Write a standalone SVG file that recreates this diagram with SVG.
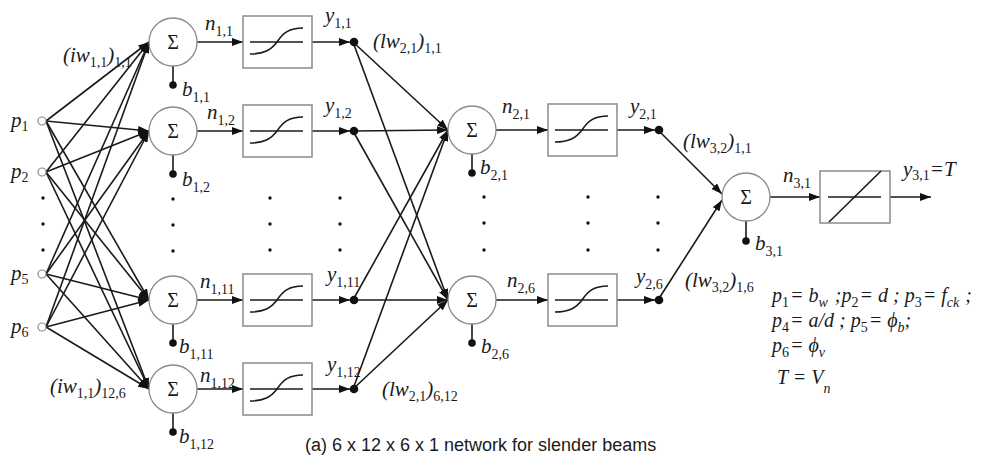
<svg xmlns="http://www.w3.org/2000/svg" width="989" height="458" viewBox="0 0 989 458">
<defs>
<marker id="ah" viewBox="0 0 11 8" refX="11" refY="4" markerWidth="11" markerHeight="8" markerUnits="userSpaceOnUse" orient="auto"><path d="M0,0 L11,4 L0,8 z" fill="#111"/></marker>
<style>
.ln{stroke:#1a1a1a;stroke-width:1.6;fill:none}
.a{marker-end:url(#ah)}
.nd{stroke:#8a8a8a;stroke-width:1.3;fill:#fff}
.box{stroke:#8a8a8a;stroke-width:1.5;fill:#fff}
.fn{stroke:#1a1a1a;stroke-width:1.6;fill:none}
.dot{fill:#111}
.sd{fill:#111}
.in{stroke:#8a8a8a;stroke-width:1.2;fill:#fff}
text{fill:#1a1a1a}
.it{font-family:"Liberation Serif","Times New Roman",serif;font-style:italic;font-size:21px}
.lg{font-size:20px}
.sub{font-size:14px;font-style:normal}
.subi{font-size:14px;font-style:italic}
.sig{font-family:"Liberation Serif","Times New Roman",serif;font-size:20px;text-anchor:middle}
.cap{font-family:"Liberation Sans",Arial,sans-serif;font-size:18px}
</style>
</defs>

<g id="connectors">
<g class="ln a">
<line x1="46" y1="121" x2="149" y2="42"/><line x1="46" y1="121" x2="149" y2="131"/><line x1="46" y1="121" x2="149" y2="300"/><line x1="46" y1="121" x2="149" y2="389"/>
<line x1="46" y1="172" x2="149" y2="42"/><line x1="46" y1="172" x2="149" y2="131"/><line x1="46" y1="172" x2="149" y2="300"/><line x1="46" y1="172" x2="149" y2="389"/>
<line x1="46" y1="274" x2="149" y2="42"/><line x1="46" y1="274" x2="149" y2="131"/><line x1="46" y1="274" x2="149" y2="300"/><line x1="46" y1="274" x2="149" y2="389"/>
<line x1="46" y1="327" x2="149" y2="42"/><line x1="46" y1="327" x2="149" y2="131"/><line x1="46" y1="327" x2="149" y2="300"/><line x1="46" y1="327" x2="149" y2="389"/>
</g>
<g class="ln a">
<line x1="197" y1="42" x2="243" y2="42"/><line x1="197" y1="131" x2="243" y2="131"/><line x1="197" y1="300" x2="243" y2="300"/><line x1="197" y1="389" x2="243" y2="389"/>
<line x1="312" y1="42" x2="350" y2="42"/><line x1="312" y1="131" x2="350" y2="131"/><line x1="312" y1="300" x2="350" y2="300"/><line x1="312" y1="389" x2="350" y2="389"/>
</g>
<g class="ln a">
<line x1="353" y1="42" x2="448" y2="130"/><line x1="353" y1="42" x2="448" y2="300"/>
<line x1="353" y1="131" x2="448" y2="130"/><line x1="353" y1="131" x2="448" y2="300"/>
<line x1="353" y1="300" x2="448" y2="130"/><line x1="353" y1="300" x2="448" y2="300"/>
<line x1="353" y1="389" x2="448" y2="130"/><line x1="353" y1="389" x2="448" y2="300"/>
</g>
<g class="ln a">
<line x1="496" y1="130" x2="548" y2="130"/><line x1="496" y1="300" x2="548" y2="300"/>
<line x1="617" y1="130" x2="655" y2="130"/><line x1="617" y1="300" x2="655" y2="300"/>
<line x1="658" y1="130" x2="722" y2="194"/><line x1="658" y1="300" x2="722" y2="200"/>
<line x1="770" y1="197" x2="820" y2="197"/><line x1="890" y1="197" x2="931" y2="197"/>
</g>
<g class="ln">
<line x1="173" y1="66" x2="173" y2="84"/><line x1="173" y1="155" x2="173" y2="173"/><line x1="173" y1="324" x2="173" y2="342"/><line x1="173" y1="413" x2="173" y2="431"/>
<line x1="472" y1="154" x2="472" y2="172"/><line x1="472" y1="324" x2="472" y2="342"/>
<line x1="746" y1="221" x2="746" y2="240"/>
</g>
<g class="dot">
<circle cx="173" cy="85" r="3.8"/><circle cx="173" cy="174" r="3.8"/><circle cx="173" cy="343" r="3.8"/><circle cx="173" cy="432" r="3.8"/>
<circle cx="472" cy="173" r="3.8"/><circle cx="472" cy="343" r="3.8"/><circle cx="746" cy="241" r="3.8"/>
<circle cx="354" cy="42" r="4.3"/><circle cx="354" cy="131" r="4.3"/><circle cx="354" cy="300" r="4.3"/><circle cx="354" cy="389" r="4.3"/>
<circle cx="659" cy="130" r="4.3"/><circle cx="659" cy="300" r="4.3"/>
</g>
</g>

<g id="ellipsis" class="sd">
<circle cx="43" cy="198" r="1.7"/><circle cx="43" cy="224" r="1.7"/><circle cx="43" cy="250" r="1.7"/>
<circle cx="173" cy="199" r="1.7"/><circle cx="173" cy="225" r="1.7"/><circle cx="173" cy="251" r="1.7"/>
<circle cx="270" cy="198" r="1.7"/><circle cx="270" cy="224" r="1.7"/><circle cx="270" cy="250" r="1.7"/>
<circle cx="340" cy="198" r="1.7"/><circle cx="340" cy="224" r="1.7"/><circle cx="340" cy="250" r="1.7"/>
<circle cx="484" cy="197" r="1.7"/><circle cx="484" cy="223" r="1.7"/><circle cx="484" cy="250" r="1.7"/>
<circle cx="588" cy="197" r="1.7"/><circle cx="588" cy="223" r="1.7"/><circle cx="588" cy="250" r="1.7"/>
<circle cx="658" cy="197" r="1.7"/><circle cx="658" cy="223" r="1.7"/><circle cx="658" cy="250" r="1.7"/>
</g>

<g id="p1"><circle class="in" cx="42" cy="121" r="4"/><text class="it" x="11" y="127">p<tspan class="sub" dy="4">1</tspan></text></g>
<g id="p2"><circle class="in" cx="42" cy="172" r="4"/><text class="it" x="11" y="178">p<tspan class="sub" dy="4">2</tspan></text></g>
<g id="p5"><circle class="in" cx="42" cy="274" r="4"/><text class="it" x="11" y="280">p<tspan class="sub" dy="4">5</tspan></text></g>
<g id="p6"><circle class="in" cx="42" cy="327" r="4"/><text class="it" x="11" y="333">p<tspan class="sub" dy="4">6</tspan></text></g>

<g id="s1_1"><circle class="nd" cx="173" cy="42" r="24"/><text class="sig" x="173" y="49">Σ</text></g>
<g id="s1_2"><circle class="nd" cx="173" cy="131" r="24"/><text class="sig" x="173" y="138">Σ</text></g>
<g id="s1_11"><circle class="nd" cx="173" cy="300" r="24"/><text class="sig" x="173" y="307">Σ</text></g>
<g id="s1_12"><circle class="nd" cx="173" cy="389" r="24"/><text class="sig" x="173" y="396">Σ</text></g>

<g id="f1_1"><rect class="box" x="243" y="16" width="69" height="52"/><line class="fn" x1="250" y1="42" x2="303" y2="42"/><path class="fn" d="M250,54 C264,54 271,50 277,42 C283,33 289,28 303,28"/></g>
<g id="f1_2"><rect class="box" x="243" y="105" width="69" height="52"/><line class="fn" x1="250" y1="131" x2="303" y2="131"/><path class="fn" d="M250,143 C264,143 271,139 277,131 C283,122 289,117 303,117"/></g>
<g id="f1_11"><rect class="box" x="243" y="274" width="69" height="52"/><line class="fn" x1="250" y1="300" x2="303" y2="300"/><path class="fn" d="M250,312 C264,312 271,308 277,300 C283,291 289,286 303,286"/></g>
<g id="f1_12"><rect class="box" x="243" y="363" width="69" height="52"/><line class="fn" x1="250" y1="389" x2="303" y2="389"/><path class="fn" d="M250,401 C264,401 271,397 277,389 C283,380 289,375 303,375"/></g>

<g id="s2_1"><circle class="nd" cx="472" cy="130" r="24"/><text class="sig" x="472" y="137">Σ</text></g>
<g id="s2_6"><circle class="nd" cx="472" cy="300" r="24"/><text class="sig" x="472" y="307">Σ</text></g>
<g id="f2_1"><rect class="box" x="548" y="104" width="69" height="52"/><line class="fn" x1="555" y1="130" x2="608" y2="130"/><path class="fn" d="M555,142 C569,142 576,138 582,130 C588,121 594,116 608,116"/></g>
<g id="f2_6"><rect class="box" x="548" y="274" width="69" height="52"/><line class="fn" x1="555" y1="300" x2="608" y2="300"/><path class="fn" d="M555,312 C569,312 576,308 582,300 C588,291 594,286 608,286"/></g>

<g id="s3_1"><circle class="nd" cx="746" cy="197" r="24"/><text class="sig" x="746" y="204">Σ</text></g>
<g id="f3_1"><rect class="box" x="820" y="171" width="70" height="52"/><line class="fn" x1="828" y1="197" x2="881" y2="197"/><line class="fn" x1="829" y1="222" x2="881" y2="171"/></g>

<g id="labels">
<text class="it" x="63" y="62">(iw<tspan class="sub" dy="5">1,1</tspan><tspan dy="-5">)</tspan><tspan class="sub" dy="5">1,1</tspan></text>
<text class="it" x="50" y="393">(iw<tspan class="sub" dy="5">1,1</tspan><tspan dy="-5">)</tspan><tspan class="sub" dy="5">12,6</tspan></text>

<text class="it" x="205" y="30">n<tspan class="sub" dy="6">1,1</tspan></text>
<text class="it" x="207" y="119">n<tspan class="sub" dy="6">1,2</tspan></text>
<text class="it" x="200" y="288">n<tspan class="sub" dy="6">1,11</tspan></text>
<text class="it" x="200" y="382">n<tspan class="sub" dy="6">1,12</tspan></text>

<text class="it" x="182" y="96">b<tspan class="sub" dy="6">1,1</tspan></text>
<text class="it" x="182" y="186">b<tspan class="sub" dy="6">1,2</tspan></text>
<text class="it" x="179" y="353">b<tspan class="sub" dy="6">1,11</tspan></text>
<text class="it" x="179" y="443">b<tspan class="sub" dy="6">1,12</tspan></text>

<text class="it" x="325" y="22">y<tspan class="sub" dy="6">1,1</tspan></text>
<text class="it" x="325" y="112">y<tspan class="sub" dy="6">1,2</tspan></text>
<text class="it" x="327" y="281">y<tspan class="sub" dy="6">1,11</tspan></text>
<text class="it" x="327" y="371">y<tspan class="sub" dy="6">1,12</tspan></text>

<text class="it" x="373" y="48">(lw<tspan class="sub" dy="5">2,1</tspan><tspan dy="-5">)</tspan><tspan class="sub" dy="5">1,1</tspan></text>
<text class="it" x="382" y="396">(lw<tspan class="sub" dy="5">2,1</tspan><tspan dy="-5">)</tspan><tspan class="sub" dy="5">6,12</tspan></text>

<text class="it" x="502" y="113">n<tspan class="sub" dy="6">2,1</tspan></text>
<text class="it" x="507" y="287">n<tspan class="sub" dy="6">2,6</tspan></text>
<text class="it" x="480" y="174">b<tspan class="sub" dy="6">2,1</tspan></text>
<text class="it" x="481" y="353">b<tspan class="sub" dy="6">2,6</tspan></text>
<text class="it" x="630" y="113">y<tspan class="sub" dy="6">2,1</tspan></text>
<text class="it" x="636" y="283">y<tspan class="sub" dy="6">2,6</tspan></text>

<text class="it" x="683" y="148">(lw<tspan class="sub" dy="5">3,2</tspan><tspan dy="-5">)</tspan><tspan class="sub" dy="5">1,1</tspan></text>
<text class="it" x="685" y="287">(lw<tspan class="sub" dy="5">3,2</tspan><tspan dy="-5">)</tspan><tspan class="sub" dy="5">1,6</tspan></text>

<text class="it" x="783" y="182">n<tspan class="sub" dy="6">3,1</tspan></text>
<text class="it" x="755" y="250">b<tspan class="sub" dy="6">3,1</tspan></text>
<text class="it" x="903" y="176">y<tspan class="sub" dy="4">3,1</tspan><tspan dy="-4">=T</tspan></text>

<text class="it lg" x="772" y="302">p<tspan class="sub" dy="5">1</tspan><tspan dy="-5" dx="1">= b</tspan><tspan class="subi" dy="5">w</tspan><tspan dy="-5" dx="2"> ;p</tspan><tspan class="sub" dy="5">2</tspan><tspan dy="-5" dx="1">= d ; p</tspan><tspan class="sub" dy="5">3</tspan><tspan dy="-5" dx="1">= f</tspan><tspan class="subi" dy="5">ck</tspan><tspan dy="-5" dx="1"> ;</tspan></text>
<text class="it lg" x="772" y="327">p<tspan class="sub" dy="5">4</tspan><tspan dy="-5" dx="1">= a/d ; p</tspan><tspan class="sub" dy="5">5</tspan><tspan dy="-5" dx="1">= ϕ</tspan><tspan class="subi" dy="5">b</tspan><tspan dy="-5">;</tspan></text>
<text class="it lg" x="772" y="352">p<tspan class="sub" dy="5">6</tspan><tspan dy="-5" dx="1">= ϕ</tspan><tspan class="subi" dy="5">v</tspan></text>
<text class="it lg" x="777" y="384">T = V<tspan class="subi" dy="9">n</tspan></text>

<text class="cap" x="305" y="451">(a) 6 x 12 x 6 x 1 network for slender beams</text>
</g>
</svg>
